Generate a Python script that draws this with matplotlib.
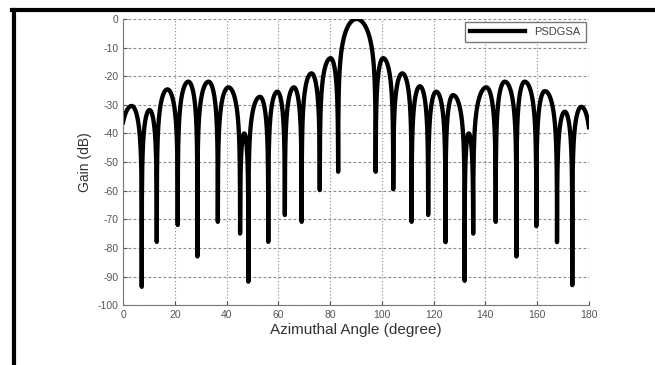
import numpy as np
import matplotlib.pyplot as plt
from matplotlib.lines import Line2D

plt.rcParams['font.family'] = ['Liberation Sans', 'DejaVu Sans']
plt.rcParams['axes.unicode_minus'] = False

# null angles (deg) and depths (dB); first/last are just outside the axis
null_ang = [-1.8, 7.2, 13.0, 21.1, 28.7, 36.6, 45.2, 48.4, 56.1, 62.5, 69.0, 76.0, 83.1,
            97.6, 104.4, 111.5, 117.9, 124.6, 132.0, 135.3, 144.0, 152.0, 159.7, 167.7, 173.6, 181.2]
null_db = [-60, -93.6, -77.9, -72.0, -83.0, -70.9, -75.0, -91.8, -77.9, -68.5, -70.9, -59.8, -53.4,
           -53.4, -59.5, -70.9, -68.5, -78.0, -91.5, -75.0, -70.9, -83.0, -72.4, -78.0, -93.0, -60]
# lobe peaks between consecutive nulls
peak_ang = [3.3, 10.2, 17.1, 25.2, 33.0, 40.7, 46.8, 52.9, 59.6, 66.0, 72.8, 80.2, 90.2,
            100.5, 107.9, 114.7, 121.0, 127.5, 133.6, 140.4, 147.5, 155.2, 163.0, 170.7, 177.1]
peak_db = [-30.4, -31.8, -24.6, -21.9, -21.9, -23.9, -40.0, -27.2, -25.4, -23.9, -19.0, -13.7, 0.0,
           -13.7, -19.0, -23.5, -25.4, -26.6, -40.0, -23.9, -21.9, -21.9, -25.2, -32.4, -30.7]

# build the pattern lobe by lobe
xs, ys = [], []
for i in range(len(peak_ang)):
    a, b, c = null_ang[i], null_ang[i + 1], peak_ang[i]
    x = np.linspace(a, b, 200)
    s = np.where(x <= c, np.sin(np.pi / 2 * (x - a) / (c - a)),
                 np.sin(np.pi / 2 * (b - x) / (b - c)))
    fl = np.where(x <= c, 10 ** (null_db[i] / 20), 10 ** (null_db[i + 1] / 20))
    amp = np.sqrt((10 ** (peak_db[i] / 20) * s) ** 2 + fl ** 2)
    xs.append(x)
    ys.append(20 * np.log10(amp))
x = np.concatenate(xs)
y = np.concatenate(ys)

fig = plt.figure(figsize=(6.55, 3.65), dpi=100)
ax = fig.add_axes([0.188, 0.164, 0.711, 0.784])
ax.plot(x, y, color='black', lw=3.1, label='PSDGSA')
ax.set_xlim(0, 180)
ax.set_ylim(-100, 0)
ax.set_xticks(range(0, 181, 20))
ax.set_yticks(range(-100, 1, 10))
ax.xaxis.grid(True, color='#888888', linestyle=(0, (1, 2)), lw=0.8)
ax.yaxis.grid(True, color='#888888', linestyle=(0, (2.5, 2)), lw=0.8)
ax.tick_params(direction='in', labelsize=7.5, colors='#555555', length=3)
for sp in ['top', 'right']:
    ax.spines[sp].set_visible(False)
for sp in ['left', 'bottom']:
    ax.spines[sp].set_color('#777777')
ax.set_xlabel('Azimuthal Angle (degree)', fontsize=11, color='#333333', labelpad=2)
ax.set_ylabel('Gain (dB)', fontsize=10, color='#333333', labelpad=4)
leg = ax.legend(loc='upper right', fontsize=8, handlelength=5, fancybox=False,
                framealpha=1, edgecolor='#777777', borderaxespad=0.3,
                borderpad=0.45, labelcolor='#444444')
leg.get_frame().set_linewidth(1.0)

# black frame lines around the picture
fig.add_artist(Line2D([0.018, 1.0], [0.973, 0.973], color='black', lw=3,
                      transform=fig.transFigure))
fig.add_artist(Line2D([0.021, 0.021], [0.0, 0.973], color='black', lw=3,
                      transform=fig.transFigure))

fig.savefig('out.png', dpi=100)
